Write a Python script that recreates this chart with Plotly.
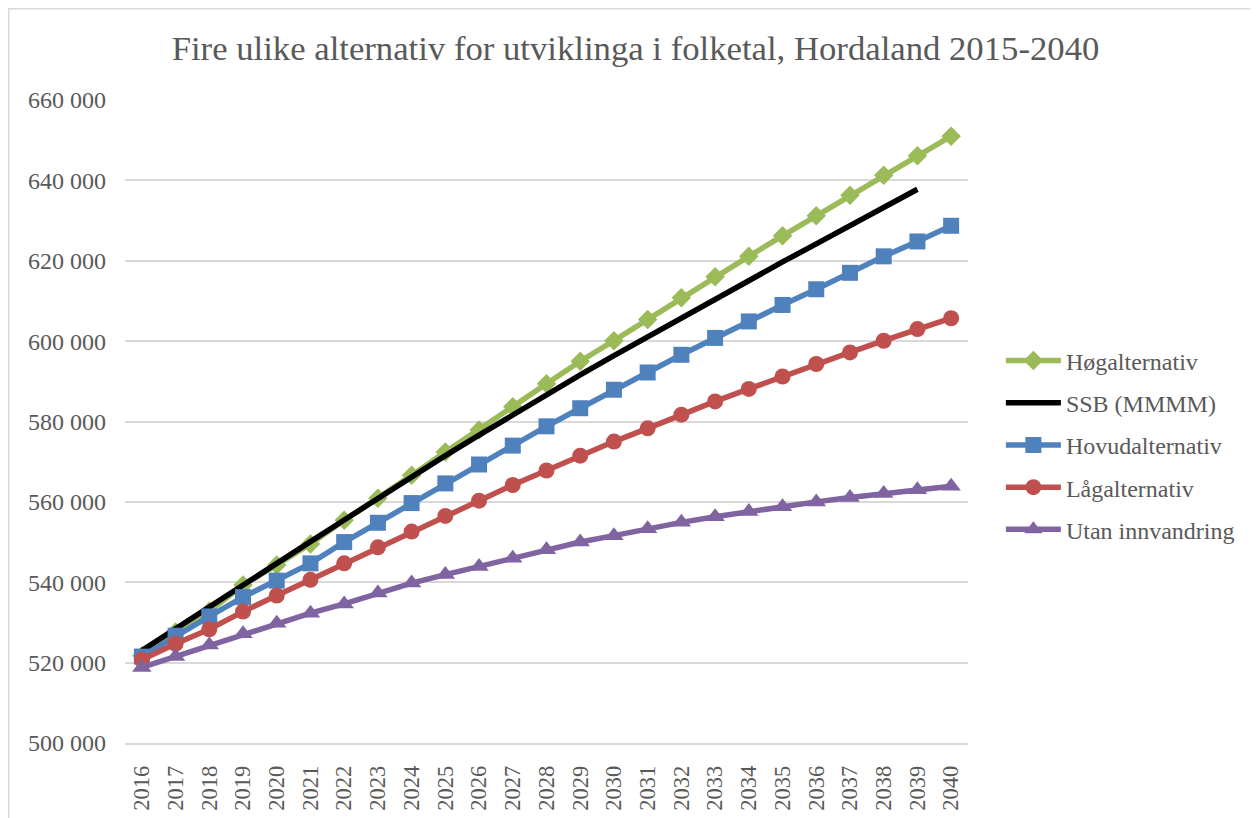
import plotly.graph_objects as go

years = [str(y) for y in range(2016, 2041)]

hog = [521700, 527600, 532800, 539300, 544300, 549500, 555400, 560900, 566600, 572400,
       577900, 583700, 589400, 595000, 600100, 605400, 610800, 616000, 621100, 626200,
       631200, 636300, 641300, 646100, 651000]
ssb_years = years[:24]
ssb = [523000, 528500, 533900, 539300, 544700, 550100, 555500, 560900, 566200, 571500,
       576600, 581700, 586700, 591600, 596400, 601100, 605800, 610500, 615100, 619700,
       624200, 628700, 633200, 637800]
hovud = [521500, 526700, 531500, 536300, 540400, 544700, 550000, 554800, 559700, 564600,
         569300, 574000, 578800, 583300, 587900, 592200, 596600, 600800, 604900, 609000,
         612900, 617000, 621100, 624800, 628700]
laag = [520700, 524700, 528300, 532700, 536700, 540600, 544700, 548700, 552600, 556500,
        560300, 564200, 567800, 571500, 575000, 578300, 581700, 585000, 588100, 591200,
        594300, 597200, 600100, 603000, 605700]
utan = [518800, 521500, 524400, 527200, 529800, 532300, 534600, 537300, 539800, 541900,
        543900, 546000, 548100, 550000, 551600, 553300, 554900, 556300, 557600, 558800,
        560000, 561100, 562100, 563000, 563900]

names = ["Høgalternativ", "SSB (MMMM)", "Hovudalternativ", "Lågalternativ", "Utan innvandring"]
colors = ["#9BBB59", "#000000", "#4F81BD", "#C0504D", "#8064A2"]

FONT = "Liberation Serif"
TXT = "#595959"
GRID = "#D9D9D9"

# page body has an 8px default margin, so the figure is shrunk by 8px
W, H = 1250, 810
ML, MT, PW, PH = 117, 92, 843, 643

fig = go.Figure()
series = [
    (years, hog, "diamond", 15),
    (ssb_years, ssb, None, 0),
    (years, hovud, "square", 16),
    (years, laag, "circle", 16),
    (years, utan, "triangle-up", 17),
]
for i, (xs, ys, sym, sz) in enumerate(series):
    if sym is None:
        fig.add_trace(go.Scatter(x=xs, y=ys, mode="lines", name=names[i],
                                 line=dict(color=colors[i], width=5.5),
                                 legendgroup=f"g{i}"))
    else:
        fig.add_trace(go.Scatter(x=xs, y=ys, mode="lines+markers", name=names[i],
                                 line=dict(color=colors[i], width=5.5),
                                 marker=dict(symbol=sym, size=sz, color=colors[i]),
                                 legendgroup=f"g{i}"))

fig.update_layout(
    width=W, height=H,
    margin=dict(l=ML, r=W - ML - PW, t=MT, b=H - MT - PH),
    paper_bgcolor="white", plot_bgcolor="white",
    separators=", ",
    font=dict(family=FONT, color=TXT, size=22),
    title=dict(text="Fire ulike alternativ for utviklinga i folketal, Hordaland 2015-2040",
               x=627.5 / W, xref="container", xanchor="center",
               y=1 - 40 / H, yref="container", yanchor="middle",
               font=dict(family=FONT, size=34.7, color=TXT)),
    xaxis=dict(type="category", range=[-0.5, 24.5], tickangle=-90,
               showgrid=False, showline=True, linecolor=GRID, linewidth=1.5,
               ticks="", ticklabelstandoff=12, automargin=False,
               tickfont=dict(family=FONT, size=22.5, color=TXT)),
    yaxis=dict(range=[500000, 660000], dtick=20000, tickformat=",d",
               showgrid=True, gridcolor=GRID, gridwidth=1.5, zeroline=False,
               showline=False, ticks="", ticklabelstandoff=18, automargin=False,
               tickfont=dict(family=FONT, size=24, color=TXT)),
    legend=dict(x=1.039, xanchor="left", y=0.4635, yanchor="middle",
                font=dict(family=FONT, size=24, color=TXT),
                itemwidth=55,
                tracegroupgap=8, bgcolor="rgba(0,0,0,0)"),
    shapes=[dict(type="rect", xref="paper", yref="paper",
                 x0=(0.75 - ML) / PW, x1=1.6, y0=-0.3, y1=(MT + PH - 0.75) / PH,
                 line=dict(color=GRID, width=1.5), fillcolor="rgba(0,0,0,0)",
                 layer="below")],
)

fig.write_html("out.html")
